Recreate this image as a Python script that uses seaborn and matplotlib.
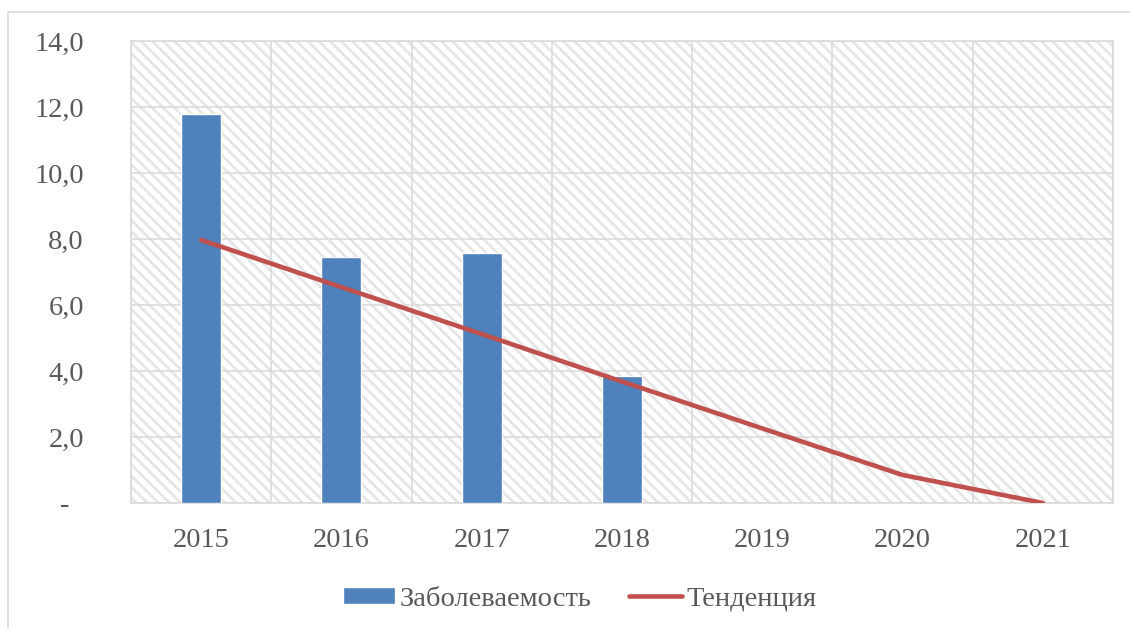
import numpy as np
import pandas as pd
import matplotlib.pyplot as plt
import seaborn as sns
from matplotlib.patches import Rectangle
from matplotlib.ticker import FixedLocator, FuncFormatter

# Data
years = ['2015', '2016', '2017', '2018', '2019', '2020', '2021']
incidence = [11.8, 7.45, 7.57, 3.85]          # bars, 2015-2018 only
trend = [7.97, 6.54, 5.12, 3.68, 2.26, 0.85, 0.0]
y_ticks = [0, 2, 4, 6, 8, 10, 12, 14]

BAR_BLUE = '#4F81BD'
TREND_RED = '#C0504D'
GRID_GRAY = '#D9D9D9'
TEXT_GRAY = '#595959'
HATCH_GRAY = '#E6E6E6'
FS = 20.5

sns.set_theme(style='white')
plt.rcParams.update({
    'font.family': ['Liberation Serif', 'DejaVu Serif'],
    'font.size': FS,
    'text.color': TEXT_GRAY,
    'xtick.color': TEXT_GRAY,
    'ytick.color': TEXT_GRAY,
    'hatch.linewidth': 2.0,
    'hatch.color': HATCH_GRAY,
})

fig = plt.figure(figsize=(11.3, 6.28), dpi=100)
ax = fig.add_axes([131 / 1130, 1 - 503 / 628, (1113 - 131) / 1130, (503 - 41) / 628])

# outer chart frame (only left and top visible in the reference)
fig.patches.append(Rectangle((8 / 1130, -0.1), 1.2, (628 - 12) / 628 + 0.1,
                             transform=fig.transFigure, facecolor='none',
                             edgecolor=GRID_GRAY, lw=1.2, zorder=0))

# hatched plot area
ax.patch.set_facecolor('white')
ax.add_patch(Rectangle((0, 0), 1, 1, transform=ax.transAxes, facecolor='white',
                       edgecolor=HATCH_GRAY, lw=0, hatch='\\\\\\', zorder=0))

bars_df = pd.DataFrame({'year': years[:len(incidence)], 'value': incidence})
sns.barplot(data=bars_df, x='year', y='value', order=years, color=BAR_BLUE,
            saturation=1, width=0.286, label='Заболеваемость', ax=ax, zorder=3)

trend_df = pd.DataFrame({'pos': np.arange(len(years)), 'value': trend})
sns.lineplot(data=trend_df, x='pos', y='value', color=TREND_RED, lw=3.3,
             label='Тенденция', ax=ax, zorder=4, solid_capstyle='round')

ax.set_xlim(-0.5, len(years) - 0.5)
ax.set_ylim(0, 14)
ax.set_xlabel('')
ax.set_ylabel('')

ax.set_xticks(np.arange(len(years)))
ax.set_xticklabels(years)
ax.xaxis.set_minor_locator(FixedLocator(np.arange(len(years) + 1) - 0.5))
ax.set_yticks(y_ticks)
ax.yaxis.set_major_formatter(FuncFormatter(
    lambda v, p: '-  ' if v == 0 else f'{v:.1f}'.replace('.', ',')))

ax.tick_params(axis='x', which='major', length=0, pad=18, labelsize=FS)
ax.tick_params(axis='x', which='minor', length=6.5, width=1.1, color=GRID_GRAY)
ax.tick_params(axis='y', length=0, pad=34, labelsize=FS)

ax.grid(False)
ax.grid(True, axis='y', which='major', color=GRID_GRAY, lw=1.1, zorder=1)
ax.grid(True, axis='x', which='minor', color=GRID_GRAY, lw=1.1, zorder=1)
ax.set_axisbelow(True)
for s in ax.spines.values():
    s.set_color(GRID_GRAY)
    s.set_linewidth(1.1)

handles, labels = ax.get_legend_handles_labels()
ax.get_legend().remove()
order = [labels.index('Заболеваемость'), labels.index('Тенденция')]
fig.legend([handles[i] for i in order], [labels[i] for i in order],
           loc='center', bbox_to_anchor=(0.513, 0.046), ncol=2,
           frameon=False, handlelength=1.83, handleheight=0.53, handletextpad=0.17,
           columnspacing=1.33, fontsize=FS)

fig.savefig('out.png', dpi=100)
